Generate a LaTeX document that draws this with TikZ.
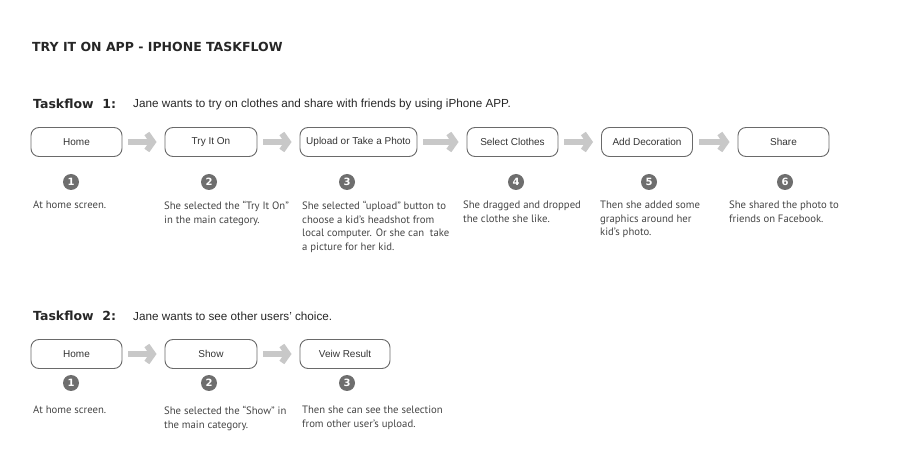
\documentclass[tikz,border=0pt]{standalone}
\usepackage{fontspec}
\setmainfont{Liberation Sans}
\newfontfamily\headfont{DejaVu Sans}
\newfontfamily\notefont{PT Sans}
\usetikzlibrary{arrows.meta}

\definecolor{boxline}{HTML}{6A6A6A}
\definecolor{arrowgray}{HTML}{C8C8C8}
\definecolor{numgray}{HTML}{6E6E6E}
\definecolor{textgray}{HTML}{454545}

\tikzstyle{screen} = [draw=boxline, line width=0.9pt, rounded corners=8pt, minimum height=29pt, inner sep=0pt, text=black!80, font=\fontsize{10}{12}\selectfont]
\tikzstyle{num} = [circle, fill=numgray, minimum size=16pt, inner sep=0pt, text=white, font=\headfont\bfseries\fontsize{10}{10}\selectfont]
\tikzstyle{note} = [anchor=north west, inner sep=0pt, align=left, text=textgray, font=\notefont\fontsize{10.7}{13.6}\selectfont]
\tikzstyle{flow} = [draw=arrowgray, line width=6pt, -{Straight Barb[length=6pt,width=17pt]}]
\tikzstyle{head} = [anchor=west, inner sep=0pt, font=\headfont\bfseries\fontsize{12.5}{15}\selectfont, text=black!85]
\tikzstyle{task} = [anchor=west, inner sep=0pt, font=\fontsize{11.7}{13}\selectfont, text=black!85]

\begin{document}
\begin{tikzpicture}[x=1pt, y=-1pt]
      \useasboundingbox (0,0) rectangle (900,470);

      \node[head] (title) at (32,47) {TRY IT ON APP - IPHONE TASKFLOW};

      % taskflow 1
      \node[head] (tf1) at (33,104) {Taskflow\ \ 1:};
      \node[task] (tf1text) at (133,104) {Jane wants to try on clothes and share with friends by using iPhone APP.};

      \node[screen, minimum width=91pt] (home) at (76.5,142) {Home};
      \node[screen, minimum width=92pt] (tryon) at (211,142) {Try It On};
      \node[screen, minimum width=117pt] (upload) at (358.5,142) {Upload or Take a Photo};
      \node[screen, minimum width=91pt] (select) at (512.5,142) {Select Clothes};
      \node[screen, minimum width=91pt] (deco) at (647,142) {Add Decoration};
      \node[screen, minimum width=91pt] (share) at (783.5,142) {Share};

      \draw[flow] ([xshift=6pt]home.east) -- ([xshift=-8pt]tryon.west);
      \draw[flow] ([xshift=6pt]tryon.east) -- ([xshift=-8pt]upload.west);
      \draw[flow] ([xshift=6pt]upload.east) -- ([xshift=-8pt]select.west);
      \draw[flow] ([xshift=6pt]select.east) -- ([xshift=-8pt]deco.west);
      \draw[flow] ([xshift=6pt]deco.east) -- ([xshift=-8pt]share.west);

      \node[num] (n1) at (71,182) {1};
      \node[num] (n2) at (209,182) {2};
      \node[num] (n3) at (347,182) {3};
      \node[num] (n4) at (516,182) {4};
      \node[num] (n5) at (649,182) {5};
      \node[num] (n6) at (785,182) {6};

      \node[note] (d1) at (33,201) {At home screen.};
      \node[note] (d2) at (164,201) {She selected the “Try It On”\\in the main category.};
      \node[note] (d3) at (302,201) {She selected “upload” button to\\choose a kid’s headshot from\\local computer. Or she can\ \ take\\a picture for her kid.};
      \node[note] (d4) at (463,201) {She dragged and dropped\\the clothe she like.};
      \node[note] (d5) at (600,201) {Then she added some\\graphics around her\\kid’s photo.};
      \node[note] (d6) at (729,201) {She shared the photo to\\friends on Facebook.};

      % taskflow 2
      \node[head] (tf2) at (33,316) {Taskflow\ \ 2:};
      \node[task] (tf2text) at (133,316) {Jane wants to see other users’ choice.};

      \node[screen, minimum width=91pt] (home2) at (76.5,354) {Home};
      \node[screen, minimum width=92pt] (show) at (211,354) {Show};
      \node[screen, minimum width=90pt] (result) at (345,354) {Veiw Result};

      \draw[flow] ([xshift=6pt]home2.east) -- ([xshift=-8pt]show.west);
      \draw[flow] ([xshift=6pt]show.east) -- ([xshift=-8pt]result.west);

      \node[num] (m1) at (71,383) {1};
      \node[num] (m2) at (209,383) {2};
      \node[num] (m3) at (347,383) {3};

      \node[note] (e1) at (33,406) {At home screen.};
      \node[note] (e2) at (164,406) {She selected the “Show” in\\the main category.};
      \node[note] (e3) at (302,406) {Then she can see the selection\\from other user’s upload.};
    \end{tikzpicture}
\end{document}
